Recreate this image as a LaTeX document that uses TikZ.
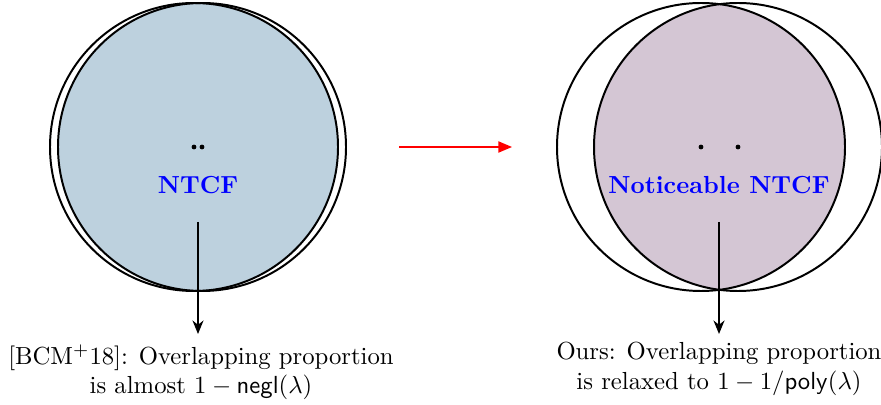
\documentclass[tikz,border=0pt]{standalone}
\usetikzlibrary{arrows.meta}
\definecolor{lensblue}{RGB}{189,209,222}
\definecolor{lensmauve}{RGB}{212,198,212}
\begin{document}
\begin{tikzpicture}[x=0.405pt,y=-0.405pt,
  ring/.style={draw=black,line width=0.8pt},
  dotmark/.style={fill=black},
  lbl/.style={text=blue,font=\bfseries},
  caption/.style={align=center,inner sep=0pt},
  down/.style={-{Stealth[length=5.5pt,width=4.5pt]},line width=0.6pt},
  flow/.style={-{Triangle[length=5.5pt,width=4.5pt]},red,line width=0.6pt}]
\useasboundingbox (0,0) rectangle (881,405);
% left pair
\coordinate (L1) at (194,147);
\coordinate (L2) at (202,147);
\begin{scope}
\clip (L1) circle (144);
\fill[lensblue] (L2) circle (144);
\end{scope}
\draw[ring] (L1) circle (144);
\draw[ring] (L2) circle (144);
\fill[dotmark] (L1) circle (2.4);
\fill[dotmark] (L2) circle (2.4);
\node[lbl] (ntcf) at (198,185) {NTCF};
% right pair
\coordinate (R1) at (701,147);
\coordinate (R2) at (738,147);
\begin{scope}
\clip (R1) circle (144);
\fill[lensmauve] (R2) circle (144);
\end{scope}
\draw[ring] (R1) circle (144);
\draw[ring] (R2) circle (144);
\fill[dotmark] (R1) circle (2.4);
\fill[dotmark] (R2) circle (2.4);
\node[lbl] (nntcf) at (719,185) {Noticeable NTCF};
% captions
\node[caption,anchor=north] (capL) at (201,344) {[BCM$^+$18]: Overlapping proportion\\ is almost $1-\mathsf{negl}(\lambda)$};
\node[caption,anchor=north] (capR) at (719,342) {Ours: Overlapping proportion\\ is relaxed to $1-1/\mathsf{poly}(\lambda)$};
% arrows
\coordinate (aL) at (198,222);
\coordinate (aR) at (719,222);
\coordinate (eL) at (198,334);
\coordinate (eR) at (719,334);
\draw[down] (aL) -- (eL);
\draw[down] (aR) -- (eR);
\coordinate (f1) at (399,147);
\coordinate (f2) at (512,147);
\draw[flow] (f1) -- (f2);
\end{tikzpicture}
\end{document}
